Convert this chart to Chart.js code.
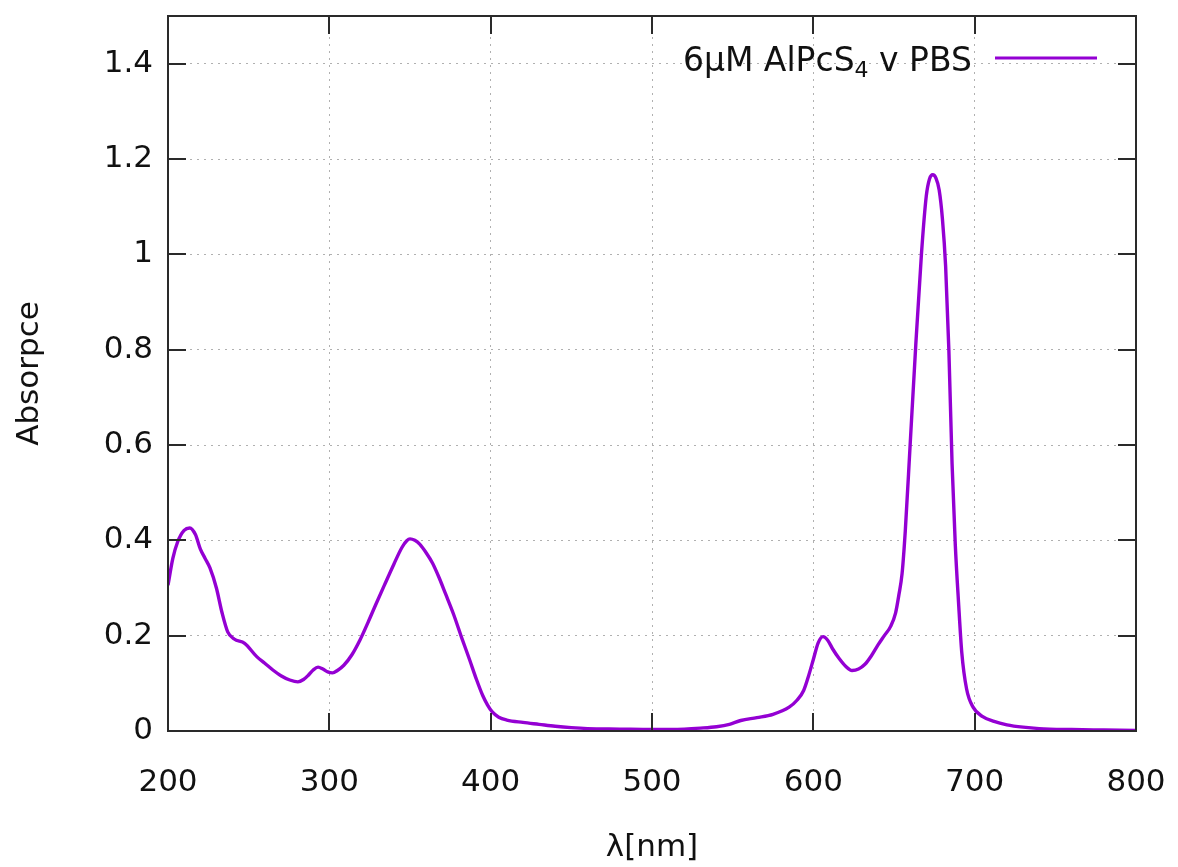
<!DOCTYPE html>
<html>
<head>
<meta charset="utf-8">
<title>AlPcS4 absorbance spectrum</title>
<script src="https://cdn.jsdelivr.net/npm/chart.js@4/dist/chart.umd.min.js"></script>
<style>
  html, body { margin: 0; padding: 0; background: #ffffff; }
  #wrap { width: 1178px; height: 867px; }
</style>
</head>
<body>
<div id="wrap"><canvas id="spectrum" width="1178" height="867"></canvas></div>
<script>
// Wavelength grid (nm) and measured absorbance
const wavelengths = [
  200, 203, 206, 210, 213.5, 217, 220, 223, 226, 230, 233.5, 237, 241, 247.5, 255, 260, 265, 270, 275.5, 280.5,
  284, 287, 290, 293, 296, 299, 302, 305, 309, 314, 319, 324, 329, 334, 340, 345, 348, 350, 353, 356,
  360, 364, 368, 372, 377, 382, 387, 391, 395, 398, 401, 405, 410, 420, 430, 440, 450, 460, 480, 500,
  520, 530, 540, 548, 555, 565, 575, 585, 590, 594, 597, 600, 603, 606, 609, 612, 616, 620, 624, 628,
  632, 636, 640, 644, 648, 651, 653, 655, 657, 660, 663.5, 667, 670, 672, 674, 676, 678, 680, 682, 684,
  686, 688, 690, 692, 695, 699, 705, 712, 720, 730, 740, 760, 780, 800
];
const absorbance = [
  0.306, 0.362, 0.397, 0.421, 0.426, 0.412, 0.382, 0.362, 0.342, 0.300, 0.248, 0.208, 0.193, 0.184, 0.156, 0.142, 0.128, 0.116, 0.107, 0.103,
  0.108, 0.117, 0.128, 0.134, 0.130, 0.124, 0.122, 0.127, 0.138, 0.160, 0.191, 0.228, 0.267, 0.305, 0.350, 0.385, 0.399, 0.403, 0.400, 0.392,
  0.374, 0.352, 0.322, 0.288, 0.245, 0.196, 0.149, 0.110, 0.075, 0.055, 0.040, 0.029, 0.023, 0.018, 0.014, 0.010, 0.007, 0.005, 0.004, 0.003,
  0.004, 0.006, 0.009, 0.014, 0.022, 0.028, 0.035, 0.050, 0.065, 0.085, 0.115, 0.150, 0.185, 0.198, 0.190, 0.172, 0.152, 0.136, 0.127, 0.130,
  0.140, 0.158, 0.180, 0.200, 0.220, 0.248, 0.285, 0.330, 0.420, 0.600, 0.810, 1.000, 1.122, 1.158, 1.167, 1.160, 1.135, 1.075, 0.975, 0.800,
  0.560, 0.390, 0.270, 0.165, 0.088, 0.050, 0.030, 0.020, 0.013, 0.008, 0.005, 0.003, 0.002, 0.001
];
const xTicks = [200, 300, 400, 500, 600, 700, 800];
const yTicks = [0, 0.2, 0.4, 0.6, 0.8, 1, 1.2, 1.4];
const seriesName = ['6µM AlPcS', '4', ' v PBS'];
const xTitle = 'λ[nm]';
const yTitle = 'Absorpce';

const FONT = 'DejaVu Sans';
const LINE_COLOR = '#9400d3';
const FRAME_COLOR = '#2a2a2a';

const points = wavelengths.map((w, i) => ({ x: w, y: absorbance[i] }));

// Mirrored inward tick marks and the closing frame on top/right
const frameTicks = {
  id: 'frameTicks',
  afterDraw(chart) {
    const { ctx, chartArea: a, scales: { x, y } } = chart;
    const len = 18;
    ctx.save();
    ctx.strokeStyle = FRAME_COLOR;
    ctx.lineWidth = 2;
    ctx.beginPath();
    xTicks.forEach(v => {
      const px = Math.round(x.getPixelForValue(v));
      ctx.moveTo(px, a.bottom); ctx.lineTo(px, a.bottom - len);
      ctx.moveTo(px, a.top); ctx.lineTo(px, a.top + len);
    });
    yTicks.forEach(v => {
      const py = Math.round(y.getPixelForValue(v));
      ctx.moveTo(a.left, py); ctx.lineTo(a.left + len, py);
      ctx.moveTo(a.right, py); ctx.lineTo(a.right - len, py);
    });
    ctx.stroke();
    ctx.strokeRect(a.left, a.top, a.right - a.left, a.bottom - a.top);
    ctx.restore();
  }
};

// Key in the upper right: text (with subscript) followed by a line sample
const keyBox = {
  id: 'keyBox',
  afterDraw(chart) {
    const { ctx, chartArea: a } = chart;
    const lineEnd = a.right - 39;
    const lineStart = lineEnd - 102;
    const yMid = a.top + 42;
    ctx.save();
    ctx.strokeStyle = LINE_COLOR;
    ctx.lineWidth = 3;
    ctx.beginPath();
    ctx.moveTo(lineStart, yMid); ctx.lineTo(lineEnd, yMid);
    ctx.stroke();

    const big = '33px "' + FONT + '"';
    const small = '22px "' + FONT + '"';
    ctx.fillStyle = '#111';
    ctx.textBaseline = 'alphabetic';
    ctx.font = big;
    const w0 = ctx.measureText(seriesName[0]).width;
    const w2 = ctx.measureText(seriesName[2]).width;
    ctx.font = small;
    const w1 = ctx.measureText(seriesName[1]).width;
    const textRight = lineStart - 23;
    let tx = textRight - (w0 + w1 + w2);
    const base = yMid + 13;
    ctx.font = big;
    ctx.fillText(seriesName[0], tx, base);
    tx += w0;
    ctx.font = small;
    ctx.fillText(seriesName[1], tx, base + 6);
    tx += w1;
    ctx.font = big;
    ctx.fillText(seriesName[2], tx, base);
    ctx.restore();
  }
};

new Chart(document.getElementById('spectrum'), {
  type: 'line',
  data: {
    datasets: [{
      label: seriesName.join(''),
      data: points,
      borderColor: LINE_COLOR,
      borderWidth: 3.4,
      pointRadius: 0,
      fill: false,
      cubicInterpolationMode: 'monotone'
    }]
  },
  options: {
    responsive: false,
    animation: false,
    events: [],
    layout: { padding: { top: 16, right: 42, left: 0, bottom: 0 } },
    plugins: { legend: { display: false }, tooltip: { enabled: false } },
    scales: {
      x: {
        type: 'linear',
        min: 200, max: 800,
        afterFit(s) { s.height = 136; s.paddingLeft = 0; s.paddingRight = 0; },
        afterBuildTicks(s) { s.ticks = xTicks.map(v => ({ value: v })); },
        ticks: {
          padding: 33,
          color: '#111',
          font: { family: FONT, size: 31 },
          maxRotation: 0,
          callback: v => String(v)
        },
        grid: { color: '#b0b0b0', lineWidth: 1, drawTicks: false },
        border: { display: true, color: FRAME_COLOR, width: 2, dash: [2, 5] },
        title: {
          display: true, text: xTitle, color: '#111',
          font: { family: FONT, size: 31 },
          padding: { top: 0, bottom: 0 }
        }
      },
      y: {
        type: 'linear',
        min: 0, max: 1.5,
        afterFit(s) { s.width = 168; s.paddingTop = 0; s.paddingBottom = 0; },
        afterBuildTicks(s) { s.ticks = yTicks.map(v => ({ value: v })); },
        ticks: {
          padding: 15,
          color: '#111',
          font: { family: FONT, size: 31 },
          callback: v => String(Number(v.toFixed(1)))
        },
        grid: { color: '#b0b0b0', lineWidth: 1, drawTicks: false },
        border: { display: true, color: FRAME_COLOR, width: 2, dash: [2, 5] },
        title: {
          display: true, text: yTitle, color: '#111',
          font: { family: FONT, size: 31 },
          padding: { top: 11, bottom: 0 }
        }
      }
    }
  },
  plugins: [frameTicks, keyBox]
});
</script>
</body>
</html>
